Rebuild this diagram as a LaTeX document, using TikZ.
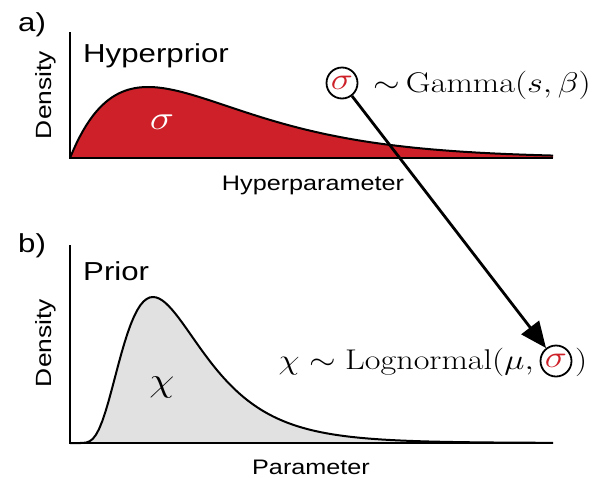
\RequirePackage{fix-cm}
\documentclass[tikz,border=0pt]{standalone}
\usepackage{fontspec}
\usepackage{graphicx}
\newfontfamily\arial{Liberation Sans}
\usetikzlibrary{arrows.meta}
\newcommand{\hs}[1]{\scalebox{1.2}[1]{#1}}
\definecolor{myred}{RGB}{205,32,40}
\definecolor{mygray}{RGB}{225,225,225}
\begin{document}
\begin{tikzpicture}[x=1pt,y=-1pt,
  lab/.style={inner sep=0pt, font=\arial\fontsize{26}{30}\selectfont},
  axlab/.style={inner sep=0pt, font=\arial\fontsize{21}{25}\selectfont},
  dens/.style={inner sep=0pt, font=\arial\fontsize{22}{26}\selectfont, rotate=90},
  mth/.style={inner sep=0pt, font=\fontsize{28.5}{32}\selectfont},
  bigsym/.style={inner sep=0pt, font=\fontsize{34}{38}\selectfont},
  ring/.style={circle, draw, line width=1.8pt, minimum size=31pt, inner sep=0pt, font=\fontsize{31}{35}\selectfont},
  axisline/.style={line width=2.4pt},
  curve/.style={line width=2pt}
]
\useasboundingbox (0,0) rectangle (601,477);
% panel a
\fill[myred] (70,158) -- plot[domain=0:483, samples=150] ({70+\x},{158-71*(\x/78)*exp(1-\x/78)}) -- (553,158) -- cycle;
\draw[curve] plot[domain=0:483, samples=150] ({70+\x},{158-71*(\x/78)*exp(1-\x/78)});
\draw[axisline] (70,32) -- (70,158) -- (553,158);
% panel b
\fill[mygray] (70,443) -- (80,443) -- plot[domain=10:483, samples=150] ({70+\x},{443-146*exp(-ln(\x/83)*ln(\x/83)/0.47)}) -- (553,443) -- cycle;
\draw[curve] (70,443) -- (80,443) -- plot[domain=10:483, samples=150] ({70+\x},{443-146*exp(-ln(\x/83)*ln(\x/83)/0.47)});
\draw[axisline] (70,245) -- (70,443) -- (553,443);
% labels a
\node[lab, anchor=base west] (la) at (18,31) {\hs{a)}};
\node[lab, anchor=base west] (ta) at (83,62) {\hs{Hyperprior}};
\node[dens] (da) at (46,95) {\hs{Density}};
\node[bigsym, text=white] (sa) at (162,122) {\hs{$\sigma$}};
\node[axlab, anchor=base] (xa) at (313,190) {\hs{Hyperparameter}};
% labels b
\node[lab, anchor=base west] (lb) at (18,252) {\hs{b)}};
\node[lab, anchor=base west] (tb) at (83,280) {\hs{Prior}};
\node[dens] (db) at (46,343) {\hs{Density}};
\node[bigsym] (cb) at (162,387) {\hs{$\chi$}};
\node[axlab, anchor=base] (xb) at (311,474) {\hs{Parameter}};
% equations
\node[ring] (s1) at (342,83) {\hs{$\color{myred}\sigma$}};
\node[mth, anchor=base east] (g) at (591,92) {\hs{$\mathord{\sim}\,\mathrm{Gamma}(s,\beta)$}};
\node[mth, anchor=base east] (l) at (534,369) {\hs{$\chi\sim\mathrm{Lognormal}(\mu,$}};
\node[ring] (s2) at (556,361) {\hs{$\color{myred}\sigma$}};
\node[mth, anchor=base west] (rp) at (575,369) {\hs{$)$}};
\draw[line width=2.8pt, -{Triangle[length=26pt,width=22pt]}] (s1) -- (s2);
\end{tikzpicture}
\end{document}
